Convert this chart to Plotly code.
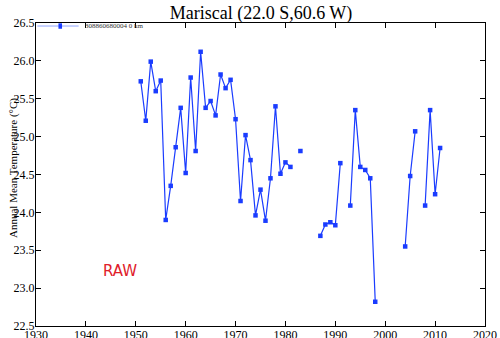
import plotly.graph_objects as go

# Annual mean temperatures, station 308860680004 (gaps are missing years)
years = list(range(1951, 2012))
temps = [
    25.73, 25.21, 25.99, 25.60, 25.74, 23.90, 24.35, 24.86, 25.38, 24.52,  # 1951-1960
    25.78, 24.81, 26.12, 25.38, 25.47, 25.28, 25.82, 25.64, 25.75, 25.23,  # 1961-1970
    24.15, 25.02, 24.69, 23.96, 24.30, 23.89, 24.45, 25.40, 24.51, 24.66,  # 1971-1980
    24.60, None, 24.81, None, None, None, 23.69, 23.84, 23.87, 23.83,      # 1981-1990
    24.65, None, 24.09, 25.35, 24.60, 24.56, 24.45, 22.82, None, None,     # 1991-2000
    None, None, None, 23.55, 24.48, 25.07, None, 24.09, 25.35, 24.24,      # 2001-2010
    24.85,                                                                 # 2011
]
x_ticks = list(range(1930, 2021, 10))
y_ticks = [22.5, 23.0, 23.5, 24.0, 24.5, 25.0, 25.5, 26.0, 26.5]

blue = "#1a3cff"
serif = "Liberation Serif"

fig = go.Figure()
fig.add_trace(go.Scatter(
    x=years, y=temps, mode="lines+markers",
    line=dict(color=blue, width=1.2),
    marker=dict(symbol="square", size=4.5, color=blue),
    connectgaps=False, showlegend=False,
))

# legend sample line with marker, drawn in paper coordinates inside the frame
fig.add_shape(type="line", xref="paper", yref="paper",
              x0=0.003, x1=0.095, y0=0.99, y1=0.99,
              line=dict(color="#8fa4ff", width=1))
fig.add_shape(type="rect", xref="paper", yref="paper",
              x0=0.05, x1=0.058, y0=0.981, y1=0.999,
              line=dict(width=0), fillcolor=blue)
fig.add_annotation(xref="paper", yref="paper", x=0.104, y=0.99,
                   text="308860680004 0 km", showarrow=False,
                   xanchor="left", yanchor="middle",
                   font=dict(family=serif, size=7, color="#333"))

fig.add_annotation(x=1946.8, y=23.23, text="RAW", showarrow=False,
                   font=dict(family="DejaVu Sans", size=15, color="#e0202a"))

# y-axis title placed by hand so it can sit over the tick labels
fig.add_annotation(xref="paper", yref="paper", x=-0.05, y=0.52,
                   text="Annual Mean Temperature (°C)", showarrow=False,
                   textangle=-90, xanchor="center", yanchor="middle",
                   font=dict(family=serif, size=11, color="black"))

axis_common = dict(
    showgrid=False, zeroline=False, showline=True, linecolor="black",
    linewidth=1.2, mirror="ticks", ticks="inside", ticklen=5,
    tickcolor="black", tickwidth=1, automargin=False,
    tickfont=dict(family=serif, size=12, color="black"),
)

fig.update_layout(
    width=500, height=338,
    margin=dict(l=36, r=15, t=23, b=12, autoexpand=False),
    paper_bgcolor="white", plot_bgcolor="white",
    title=dict(text="Mariscal (22.0 S,60.6 W)", x=0.522, xanchor="center",
               y=0.962, yanchor="middle",
               font=dict(family=serif, size=18, color="black")),
    xaxis=dict(range=[1930, 2020], tickvals=x_ticks, ticklabelstandoff=-3,
               **axis_common),
    yaxis=dict(range=[22.5, 26.5], tickvals=y_ticks,
               ticktext=[f"{v:.1f}" for v in y_ticks], ticklabelstandoff=-2,
               **axis_common),
)

fig.write_html("out.html")
